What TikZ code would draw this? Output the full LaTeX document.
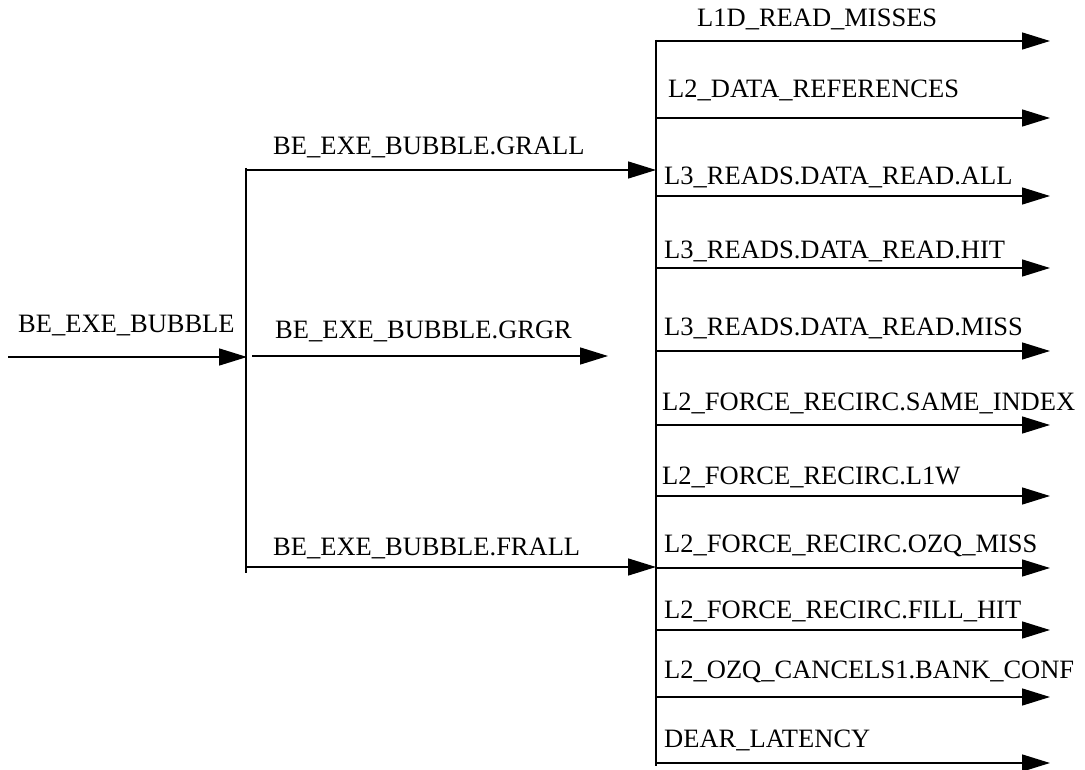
\documentclass[tikz,border=0pt]{standalone}
\usepackage{fontspec}
\setmainfont{Liberation Serif}
\usetikzlibrary{arrows.meta}
\begin{document}
\begin{tikzpicture}[x=1pt,y=-1pt,
  wire/.style={line width=1.5pt,line cap=butt},
  flow/.style={wire,-{Triangle[length=28pt,width=17pt]}},
  lbl/.style={anchor=base west,inner sep=0pt,font=\fontsize{26.5}{30}\selectfont}]
\useasboundingbox (0,0) rectangle (1085,770);

% input event and first split
\coordinate (src) at (8,357);
\coordinate (lbar) at (247,357);
\coordinate (ltop) at (246,168);
\coordinate (lbot) at (246,573);
\node[lbl] (bub) at (18,332) {BE\_EXE\_BUBBLE};
\draw[flow] (src) -- (lbar);
\draw[wire] (ltop) -- (lbot);

% second-level events
\coordinate (grallS) at (246,170);
\coordinate (grallE) at (656,170);
\coordinate (grgrS) at (252,356);
\coordinate (grgrE) at (608,356);
\coordinate (frallS) at (246,567);
\coordinate (frallE) at (656,567);
\node[lbl] (grall) at (273,155) {BE\_EXE\_BUBBLE.GRALL};
\node[lbl] (grgr) at (275,338) {BE\_EXE\_BUBBLE.GRGR};
\node[lbl] (frall) at (273,555) {BE\_EXE\_BUBBLE.FRALL};
\draw[flow] (grallS) -- (grallE);
\draw[flow] (grgrS) -- (grgrE);
\draw[flow] (frallS) -- (frallE);

% right-hand bar feeding the memory events
\coordinate (rtop) at (656,40);
\coordinate (rbot) at (656,766);
\draw[wire] (rtop) -- (rbot);

\foreach \n/\y/\b/\lx/\t in {
  a/41/27/697/L1D\_READ\_MISSES,
  b/118/98/668/L2\_DATA\_REFERENCES,
  c/196/185/664/L3\_READS.DATA\_READ.ALL,
  d/268/259/664/L3\_READS.DATA\_READ.HIT,
  e/351/335/664/L3\_READS.DATA\_READ.MISS,
  f/425/410/662/L2\_FORCE\_RECIRC.SAME\_INDEX,
  g/496/484/662/L2\_FORCE\_RECIRC.L1W,
  h/568/552/664/L2\_FORCE\_RECIRC.OZQ\_MISS,
  i/630/618/664/L2\_FORCE\_RECIRC.FILL\_HIT,
  j/697/678/664/L2\_OZQ\_CANCELS1.BANK\_CONF,
  k/763/747/664/DEAR\_LATENCY}{
  \coordinate (s\n) at (656,\y);
  \coordinate (e\n) at (1050,\y);
  \node[lbl] (t\n) at (\lx,\b) {\t};
  \draw[flow] (s\n) -- (e\n);
}
\end{tikzpicture}
\end{document}
